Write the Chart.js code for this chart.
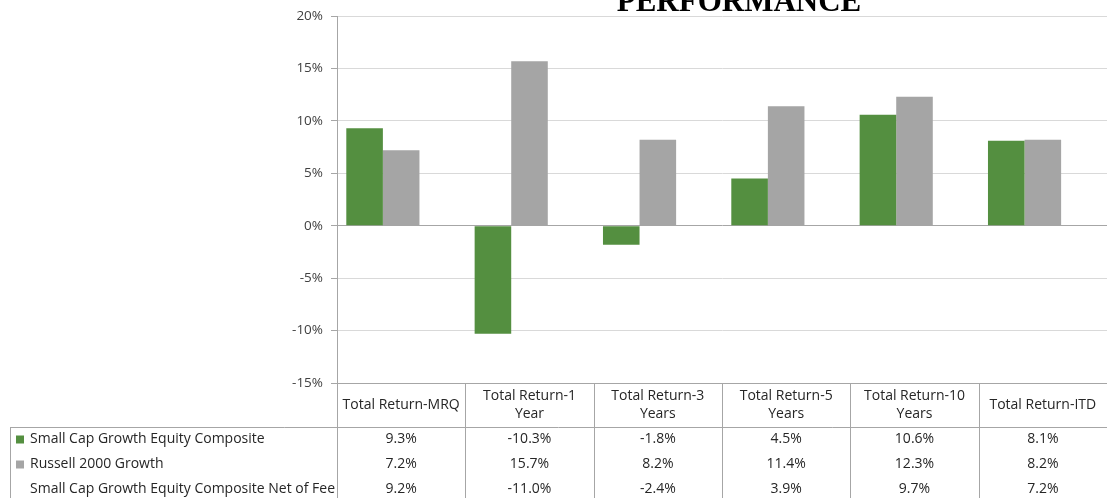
<!DOCTYPE html>
<html>
<head>
<meta charset="utf-8">
<script src="https://cdn.jsdelivr.net/npm/chart.js@4.4.0/dist/chart.umd.min.js"></script>
<style>
  html, body { margin: 0; padding: 0; background: #fff; }
  #wrap { width: 1107px; height: 498px; }
</style>
</head>
<body>
<div id="wrap"><canvas id="chart1" width="1107" height="498"></canvas></div>
<script>
// chart data
const categories = [
    ["Total Return-MRQ"],
    ["Total Return-1", "Year"],
    ["Total Return-3", "Years"],
    ["Total Return-5", "Years"],
    ["Total Return-10", "Years"],
    ["Total Return-ITD"],
];
const seriesNames = [
    "Small Cap Growth Equity Composite",
    "Russell 2000 Growth",
    "Small Cap Growth Equity Composite Net of Fee",
];
const composite = [9.3, -10.3, -1.8, 4.5, 10.6, 8.1];
const russell = [7.2, 15.7, 8.2, 11.4, 12.3, 8.2];
const netOfFee = [9.2, -11.0, -2.4, 3.9, 9.7, 7.2];
const yTicks = [-15, -10, -5, 0, 5, 10, 15, 20];

const seriesColors = ["#548F40", "#A5A5A5", "rgba(0,0,0,0)"];
const FONT = "'Open Sans', Lato, sans-serif";
const FONT_SIZE = 14;
const lineColor = "#A6A6A6";

const ctx = document.getElementById("chart1").getContext("2d");

new Chart(ctx, {
    type: "bar",
    data: {
        labels: categories,
        datasets: [
            { label: seriesNames[0], data: composite, backgroundColor: seriesColors[0] },
            { label: seriesNames[1], data: russell, backgroundColor: seriesColors[1] },
            { label: seriesNames[2], data: netOfFee, backgroundColor: seriesColors[2] },
        ],
    },
    options: {
        responsive: false,
        animation: false,
        layout: { padding: { left: 0, right: 0, top: 14, bottom: 115 } },
        datasets: {
            bar: { categoryPercentage: 0.855, barPercentage: 1.0 }
        },
        plugins: {
            legend: { display: false },
            tooltip: { enabled: false },
        },
        scales: {
            x: {
                display: false,
                grid: { display: false },
            },
            y: {
                min: -15,
                max: 20,
                afterBuildTicks: (scale) => {
                    scale.ticks = yTicks.map(v => ({ value: v }));
                },
                afterFit: (scale) => { scale.width = 337; },
                border: { display: true, color: lineColor, width: 1 },
                grid: {
                    color: (c) => (c.tick && (c.tick.value === 0 || c.tick.value === -15)) ? lineColor : "#D9D9D9",
                    tickColor: lineColor,
                    tickLength: 6,
                },
                ticks: {
                    padding: 8,
                    color: "#404040",
                    font: { family: FONT, size: 13.5 },
                    callback: (v) => v + "%",
                },
            },
        },
    },
    plugins: [{
        id: "titleAndTable",
        afterDraw: (chart) => {
            const { ctx, chartArea, scales, data } = chart;
            const xs = scales.x;
            const n = data.labels.length;
            const colW = (chartArea.right - chartArea.left) / n;
            const top = chartArea.bottom;
            const headerBottom = top + 44;
            const rowH = 25;
            const bottom = 498;
            const legendLeft = 10;

            // title (partly cut off at the top)
            ctx.save();
            ctx.font = "bold 31px 'Liberation Serif', 'DejaVu Serif', serif";
            ctx.fillStyle = "#000";
            ctx.textAlign = "center";
            ctx.textBaseline = "alphabetic";
            ctx.fillText("PERFORMANCE", 739, 11);
            ctx.restore();

            // table lines
            ctx.save();
            ctx.strokeStyle = lineColor;
            ctx.lineWidth = 1;
            ctx.beginPath();
            for (let i = 0; i <= n; i++) {
                const x = Math.round(chartArea.left + i * colW) + 0.5;
                ctx.moveTo(x, top);
                ctx.lineTo(x, bottom);
            }
            ctx.moveTo(legendLeft + 0.5, headerBottom);
            ctx.lineTo(legendLeft + 0.5, bottom);
            ctx.moveTo(legendLeft, headerBottom + 0.5);
            ctx.lineTo(chartArea.right, headerBottom + 0.5);
            ctx.moveTo(chartArea.left, top + 0.5);
            ctx.lineTo(chartArea.right, top + 0.5);
            ctx.stroke();
            ctx.restore();

            // header labels
            ctx.save();
            ctx.font = `${FONT_SIZE}px ${FONT}`;
            ctx.fillStyle = "#262626";
            ctx.textAlign = "center";
            ctx.textBaseline = "middle";
            data.labels.forEach((lines, i) => {
                const cx = xs.getPixelForValue(i);
                const cy = (top + headerBottom) / 2;
                const lh = 18;
                lines.forEach((line, j) => {
                    ctx.fillText(line, cx, cy + (j - (lines.length - 1) / 2) * lh);
                });
            });

            // rows
            data.datasets.forEach((ds, r) => {
                const cy = headerBottom + rowH * r + rowH / 2;
                ctx.textAlign = "center";
                ds.data.forEach((v, i) => {
                    ctx.fillText(v.toFixed(1) + "%", xs.getPixelForValue(i), cy);
                });
                // legend key
                if (ds.backgroundColor !== "rgba(0,0,0,0)") {
                    ctx.fillStyle = ds.backgroundColor;
                    ctx.fillRect(16, cy - 4, 8, 8);
                    ctx.fillStyle = "#262626";
                }
                ctx.textAlign = "left";
                ctx.fillText(ds.label, 30, cy);
            });
            ctx.restore();
        }
    }]
});
</script>
</body>
</html>
